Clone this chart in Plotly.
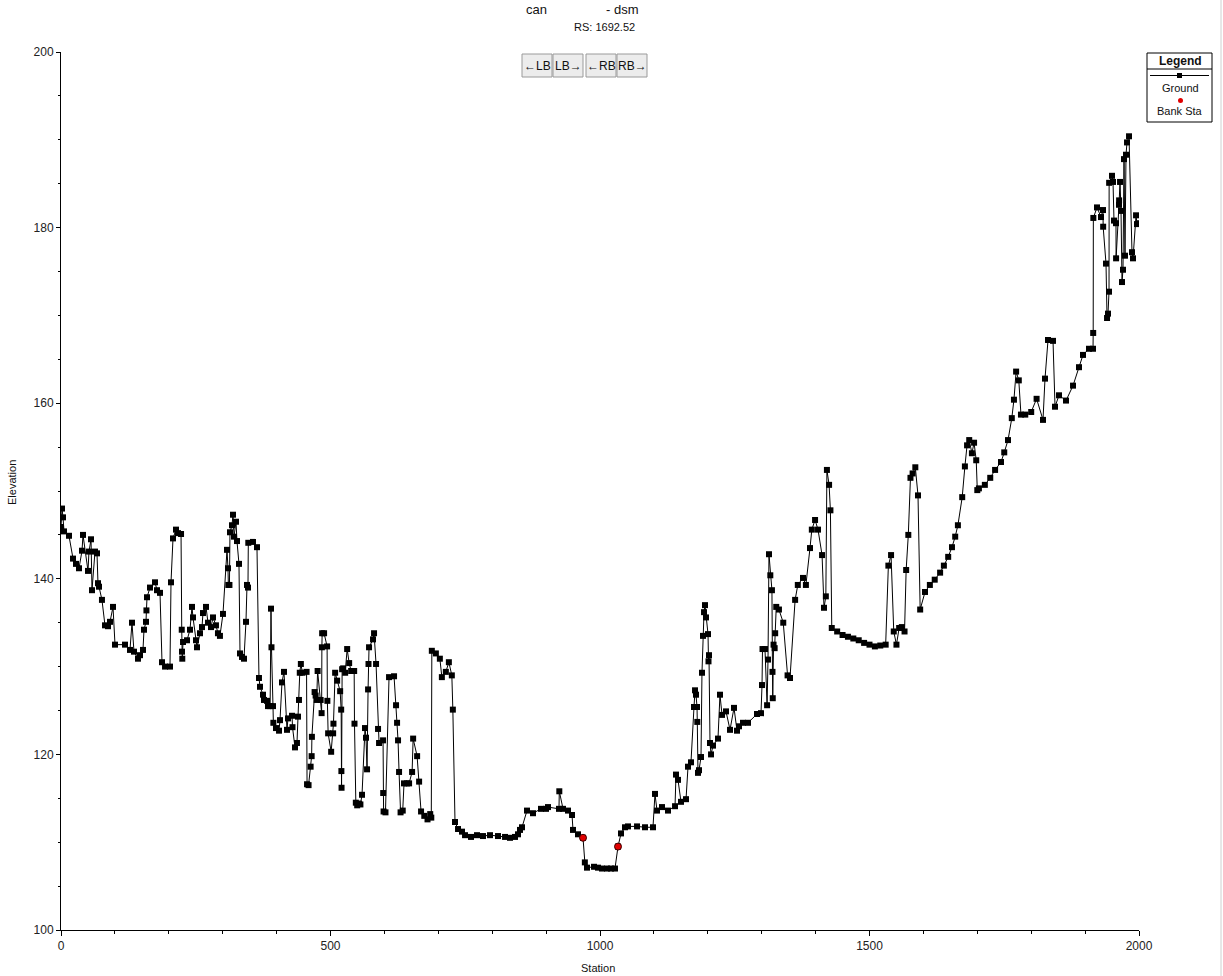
import plotly.graph_objects as go

station = [0, 1.9, 3.7, 5.6, 14.8, 22.3, 27.8, 33.4, 39.0, 40.8, 50.1, 51.9, 55.7, 57.5, 63.1, 66.8, 68.6, 70.5, 76.0, 81.6,
           87.2, 90.9, 96.5, 100.2, 118.7, 128.0, 131.7, 135.4, 142.8, 146.6, 152.1, 154.0, 157.7, 158.5, 159.6, 165.1, 174.4, 178.1, 183.7, 187.4,
           193.0, 202.2, 204.1, 207.8, 213.4, 217.1, 222.7, 224.0, 224.5, 225.0, 226.4, 233.8, 239.3, 243.0, 244.9, 250.4, 252.3, 257.9, 261.6, 263.4,
           269.0, 272.7, 278.3, 282.0, 287.5, 291.2, 294.9, 300.5, 308.0, 309.8, 310.5, 312.5, 313.5, 317.3, 319.1, 321.0, 324.7, 326.5, 330.2, 332.1,
           335.8, 339.5, 343.2, 345.1, 346.9, 347.5, 356.2, 363.6, 367.3, 369.2, 374.8, 376.6, 382.2, 384.0, 388.0, 389.6, 390.5, 393.3, 394.0, 398.9,
           404.5, 406.3, 410.0, 413.7, 419.3, 421.1, 428.6, 429.5, 434.1, 437.8, 439.7, 441.5, 443.0, 445.0, 448.0, 455.6, 456.5, 459.3, 463.1, 465.0,
           465.5, 470.5, 472.4, 474.3, 476.1, 481.7, 483.5, 484.0, 484.5, 488.1, 493.7, 494.2, 495.6, 501.2, 504.9, 505.5, 508.6, 512.3, 517.9, 519.8,
           520.2, 520.5, 521.6, 523.5, 527.2, 530.9, 534.6, 538.3, 543.9, 544.5, 547.0, 549.5, 553.0, 555.5, 558.5, 564.0, 565.9, 567.8, 569.7, 570.5,
           571.5, 578.9, 580.8, 584.5, 588.2, 590.1, 597.5, 597.8, 598.5, 602.0, 608.6, 617.9, 621.6, 623.5, 625.3, 627.2, 630.0, 634.0, 636.4, 642.0,
           645.8, 651.4, 653.3, 660.7, 664.4, 668.0, 674.0, 680.0, 685.0, 687.0, 688.0, 695.5, 702.9, 706.6, 714.0, 719.6, 725.1, 727.0, 731.0, 736.6,
           744.0, 749.6, 760.7, 771.8, 782.9, 795.9, 810.8, 823.8, 833.0, 842.3, 847.9, 851.6, 855.3, 864.6, 875.7, 890.5, 899.8, 903.5, 923.9, 924.5,
           931.4, 940.6, 948.1, 949.9, 959.2, 968.5, 971.9, 975.9, 988.9, 996.3, 1003.7, 1013.0, 1020.4, 1027.8, 1033.4, 1039.0, 1046.4, 1052.0, 1068.7, 1083.5,
           1098.3, 1102.0, 1105.8, 1115.0, 1126.2, 1139.2, 1141.0, 1144.7, 1150.3, 1159.6, 1163.3, 1168.8, 1174.4, 1176.3, 1178.1, 1180.0, 1180.5, 1181.8, 1183.7, 1187.4,
           1189.2, 1191.1, 1193.0, 1194.8, 1196.7, 1200.4, 1201.3, 1202.2, 1204.1, 1206.0, 1209.7, 1218.9, 1222.6, 1226.4, 1233.8, 1241.2, 1248.6, 1254.2, 1257.9, 1265.3,
           1274.6, 1291.3, 1298.7, 1300.6, 1301.5, 1306.1, 1310.0, 1311.7, 1313.5, 1316.0, 1319.0, 1320.0, 1320.5, 1322.0, 1324.0, 1325.0, 1327.0, 1332.0, 1340.0, 1348.0,
           1352.5, 1362.0, 1367.0, 1376.6, 1382.0, 1389.6, 1393.0, 1399.0, 1404.5, 1412.0, 1415.6, 1419.0, 1421.0, 1425.0, 1427.5, 1430.0, 1440.0, 1450.0, 1460.0, 1470.0,
           1480.0, 1490.0, 1500.0, 1510.0, 1520.0, 1530.0, 1535.0, 1540.0, 1545.0, 1550.0, 1555.0, 1560.0, 1565.0, 1568.0, 1572.0, 1576.0, 1580.0, 1585.0, 1590.0, 1594.0,
           1603.0, 1612.0, 1621.0, 1631.0, 1638.0, 1646.0, 1653.0, 1659.0, 1664.0, 1672.0, 1677.0, 1681.0, 1685.0, 1690.0, 1694.0, 1698.0, 1700.0, 1703.0, 1714.0, 1724.0,
           1733.0, 1744.0, 1750.0, 1757.0, 1764.0, 1768.0, 1772.0, 1777.0, 1781.0, 1789.0, 1800.0, 1810.0, 1821.9, 1825.6, 1831.2, 1840.5, 1844.2, 1851.6, 1864.6, 1877.6,
           1888.7, 1896.1, 1907.2, 1914.7, 1915.0, 1915.3, 1922.1, 1929.5, 1933.2, 1933.5, 1938.8, 1940.7, 1942.5, 1944.4, 1944.6, 1949.9, 1951.8, 1953.6, 1957.3, 1957.5,
           1962.9, 1963.1, 1964.8, 1966.6, 1968.5, 1970.3, 1972.2, 1974.0, 1975.9, 1977.8, 1981.5, 1987.0, 1988.9, 1994.5, 1996.3, 2000.0]

elevation = [145.9, 148.0, 147.0, 145.4, 144.9, 142.3, 141.7, 141.2, 143.2, 145.0, 140.9, 143.1, 144.5, 138.7, 143.1, 142.9, 139.5, 139.1, 137.6, 134.7,
             134.6, 135.1, 136.8, 132.5, 132.5, 131.9, 135.0, 131.7, 130.9, 131.3, 131.9, 134.2, 135.1, 136.4, 137.9, 139.0, 139.6, 138.7, 138.4, 130.5,
             130.0, 130.0, 139.6, 144.6, 145.6, 145.2, 145.1, 134.2, 131.7, 130.9, 132.8, 133.0, 134.2, 136.8, 135.6, 133.0, 132.2, 133.8, 134.5, 136.1,
             136.8, 135.0, 134.5, 135.6, 134.7, 133.8, 133.5, 136.0, 143.3, 141.2, 139.3, 139.3, 145.3, 146.1, 147.3, 144.8, 146.5, 144.3, 141.7, 131.5,
             131.1, 130.9, 135.1, 139.3, 139.0, 144.1, 144.2, 143.6, 128.7, 127.7, 126.8, 126.2, 126.1, 125.5, 125.5, 136.6, 132.2, 125.5, 123.6, 123.0,
             122.7, 123.9, 128.2, 129.4, 122.8, 124.1, 124.4, 123.1, 120.8, 121.3, 124.3, 126.2, 129.3, 130.3, 129.3, 129.4, 116.6, 116.5, 118.6, 119.8,
             122.0, 127.1, 126.7, 126.2, 129.5, 126.2, 124.7, 132.2, 133.8, 133.8, 132.3, 126.1, 122.4, 120.3, 122.4, 123.5, 129.3, 128.4, 127.2, 125.1,
             118.1, 116.2, 129.7, 129.8, 129.3, 132.0, 130.4, 129.5, 129.5, 123.5, 114.5, 114.2, 114.4, 114.3, 115.4, 123.0, 121.9, 118.3, 127.4, 130.3,
             132.2, 133.1, 133.8, 130.3, 122.9, 121.3, 121.6, 115.6, 113.5, 113.4, 128.8, 128.9, 125.6, 123.6, 121.6, 118.0, 113.4, 113.6, 116.7, 116.7,
             116.7, 118.0, 121.8, 119.8, 116.9, 113.5, 113.0, 112.6, 113.2, 112.8, 131.8, 131.5, 130.9, 128.8, 129.4, 130.5, 129.0, 125.1, 112.3, 111.5,
             111.2, 110.8, 110.6, 110.8, 110.7, 110.8, 110.7, 110.6, 110.5, 110.6, 110.9, 111.4, 111.7, 113.6, 113.3, 113.8, 113.8, 114.0, 113.8, 115.8,
             113.8, 113.6, 113.1, 111.4, 110.9, 110.5, 107.7, 107.1, 107.2, 107.1, 107.0, 107.0, 107.0, 107.0, 109.5, 111.0, 111.7, 111.8, 111.8, 111.7,
             111.7, 115.5, 113.6, 114.0, 113.6, 114.1, 117.7, 117.1, 114.6, 114.9, 118.6, 119.1, 125.4, 127.3, 126.8, 125.4, 123.7, 117.9, 118.2, 119.7,
             129.3, 133.5, 136.2, 137.0, 135.6, 133.7, 130.6, 131.3, 121.3, 120.0, 121.0, 121.8, 126.8, 124.5, 124.9, 122.8, 125.3, 122.7, 123.2, 123.6,
             123.6, 124.6, 124.7, 127.9, 132.0, 132.0, 125.6, 130.8, 142.8, 140.4, 138.7, 129.4, 126.4, 132.5, 132.1, 133.8, 136.8, 136.5, 135.0, 129.0,
             128.7, 137.6, 139.3, 140.1, 139.3, 143.5, 145.6, 146.7, 145.6, 142.7, 136.7, 138.0, 152.4, 150.7, 147.8, 134.4, 134.0, 133.6, 133.4, 133.2,
             133.0, 132.7, 132.5, 132.3, 132.4, 132.5, 141.5, 142.7, 134.0, 132.5, 134.4, 134.5, 134.0, 141.0, 145.0, 151.5, 152.0, 152.7, 149.5, 136.5,
             138.5, 139.3, 139.9, 140.7, 141.5, 142.5, 143.6, 144.8, 146.1, 149.3, 152.8, 155.2, 155.8, 154.3, 155.5, 153.5, 150.1, 150.3, 150.7, 151.5,
             152.4, 153.3, 154.4, 155.8, 158.3, 160.4, 163.6, 162.6, 158.7, 158.7, 159.0, 160.5, 158.1, 162.8, 167.2, 167.1, 159.6, 160.9, 160.3, 162.0,
             164.1, 165.5, 166.2, 166.2, 168.0, 181.1, 182.3, 181.2, 182.0, 180.1, 175.9, 169.7, 170.2, 172.7, 185.1, 185.9, 185.2, 180.8, 180.5, 176.5,
             182.6, 183.1, 185.2, 181.9, 173.8, 175.2, 187.8, 176.8, 188.3, 189.7, 190.4, 177.2, 176.5, 181.4, 180.4, 180.5]

bank_station = [968.5, 1033.4]
bank_elev = [110.5, 109.5]

FONT = "Arial, Liberation Sans, sans-serif"

W, H = 1223, 976
PL, PR, PT, PB = 61, 1139, 52, 930          # plot area in page pixels
L, T = PL, PT
R, B = W - PR, H - PB


def px(x):
    return (x - PL) / (PR - PL)


def py(y):
    return (PB - y) / (PB - PT)


fig = go.Figure()
fig.add_trace(go.Scatter(x=station, y=elevation, mode="lines+markers", name="Ground",
                         line=dict(color="black", width=1),
                         marker=dict(symbol="square", size=6, color="black"),
                         showlegend=False))
fig.add_trace(go.Scatter(x=bank_station, y=bank_elev, mode="markers", name="Bank Sta",
                         marker=dict(symbol="circle", size=7, color="#e00000",
                                     line=dict(color="#400000", width=1)),
                         showlegend=False))

fig.update_layout(
    width=W, height=H,
    margin=dict(l=L, r=R, t=T, b=B, autoexpand=False),
    paper_bgcolor="white", plot_bgcolor="white",
    font=dict(family=FONT, size=12, color="#222222"),
    xaxis=dict(range=[0, 2000], tickvals=[0, 500, 1000, 1500, 2000], showgrid=False, zeroline=False,
               showline=True, linecolor="black", linewidth=1, ticks="outside", ticklen=5, tickcolor="black",
               minor=dict(dtick=100, ticks="outside", ticklen=3, tickcolor="black"),
               automargin=False, tickfont=dict(size=12)),
    yaxis=dict(range=[100, 200], tickvals=[100, 120, 140, 160, 180, 200], showgrid=False, zeroline=False,
               showline=True, linecolor="black", linewidth=1, ticks="outside", ticklen=4, tickcolor="black",
               minor=dict(dtick=5, ticks="outside", ticklen=2, tickcolor="black"),
               automargin=False, tickfont=dict(size=12)),
)

ann = []


def text(x, y, s, size=12, **kw):
    d = dict(x=px(x), y=py(y), xref="paper", yref="paper", text=s, showarrow=False,
             xanchor="center", yanchor="middle", font=dict(size=size, family=FONT, color="#111111"))
    d.update(kw)
    ann.append(d)


text(536, 10, "can", 13)
text(622, 10, "- dsm", 13)
text(604, 27, "RS: 1692.52", 11)
text(12, 483, "Elevation", 11, textangle=-90)
text(598, 968, "Station", 11)

shapes = []
buttons = [("←LB", 522, 552), ("LB→", 553, 583), ("←RB", 586, 616), ("RB→", 617, 647)]
for label, x0, x1 in buttons:
    shapes.append(dict(type="rect", xref="paper", yref="paper", x0=px(x0), x1=px(x1), y0=py(77), y1=py(54),
                       fillcolor="#ececec", line=dict(color="#9a9a9a", width=1), layer="above"))
    text((x0 + x1) / 2, 65.5, label, 12)

# legend box
shapes.append(dict(type="rect", xref="paper", yref="paper", x0=px(1147), x1=px(1212), y0=py(122), y1=py(53),
                   fillcolor="white", line=dict(color="black", width=1), layer="above"))
shapes.append(dict(type="line", xref="paper", yref="paper", x0=px(1147), x1=px(1212), y0=py(69), y1=py(69),
                   line=dict(color="black", width=1), layer="above"))
shapes.append(dict(type="line", xref="paper", yref="paper", x0=px(1150), x1=px(1209), y0=py(75.5), y1=py(75.5),
                   line=dict(color="black", width=1), layer="above"))
shapes.append(dict(type="rect", xref="paper", yref="paper", x0=px(1177), x1=px(1182), y0=py(78), y1=py(73),
                   fillcolor="black", line=dict(color="black", width=0), layer="above"))
shapes.append(dict(type="circle", xref="paper", yref="paper", x0=px(1178), x1=px(1183), y0=py(103), y1=py(98),
                   fillcolor="#e00000", line=dict(color="#e00000", width=0), layer="above"))
shapes.append(dict(type="line", xref="paper", yref="paper", x0=px(1221), x1=px(1221), y0=py(976), y1=py(0),
                   line=dict(color="#d0d0d0", width=1), layer="above"))
text(1180, 61, "<b>Legend</b>", 12)
text(1180, 88, "Ground", 11)
text(1180, 111, "Bank Sta", 11)

fig.update_layout(annotations=ann, shapes=shapes)
fig.write_html("out.html", config={"displayModeBar": False},
               post_script="document.body.style.margin='0px';")
